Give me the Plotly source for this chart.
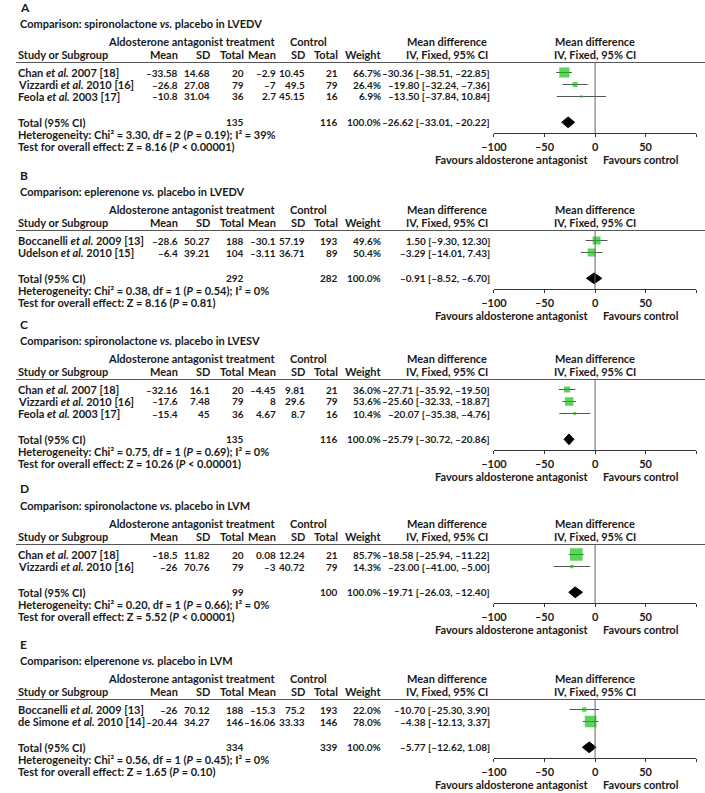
import plotly.graph_objects as go

W, H = 705, 793

# ---------------- data ----------------
panel_letters = ["A", "B", "C", "D", "E"]
drug_names = ["spironolactone", "eplerenone", "spironolactone", "spironolactone", "elperenone"]
outcomes = ["LVEDV", "LVEDV", "LVESV", "LVM", "LVM"]

A_authors = ["Chan", "Vizzardi", "Feola"]
A_years = [2007, 2010, 2003]
A_refs = [18, 16, 17]
A_exp_mean = [-33.58, -26.8, -10.8]
A_exp_sd = [14.68, 27.08, 31.04]
A_exp_n = [20, 79, 36]
A_ctl_mean = [-2.9, -7, 2.7]
A_ctl_sd = [10.45, 49.5, 45.15]
A_ctl_n = [21, 79, 16]
A_weight = [66.7, 26.4, 6.9]
A_md = [-30.36, -19.80, -13.50]
A_lo = [-38.51, -32.24, -37.84]
A_hi = [-22.85, -7.36, 10.84]

B_authors = ["Boccanelli", "Udelson"]
B_years = [2009, 2010]
B_refs = [13, 15]
B_exp_mean = [-28.6, -6.4]
B_exp_sd = [50.27, 39.21]
B_exp_n = [188, 104]
B_ctl_mean = [-30.1, -3.11]
B_ctl_sd = [57.19, 36.71]
B_ctl_n = [193, 89]
B_weight = [49.6, 50.4]
B_md = [1.50, -3.29]
B_lo = [-9.30, -14.01]
B_hi = [12.30, 7.43]

C_authors = ["Chan", "Vizzardi", "Feola"]
C_years = [2007, 2010, 2003]
C_refs = [18, 16, 17]
C_exp_mean = [-32.16, -17.6, -15.4]
C_exp_sd = [16.1, 7.48, 45]
C_exp_n = [20, 79, 36]
C_ctl_mean = [-4.45, 8, 4.67]
C_ctl_sd = [9.81, 29.6, 8.7]
C_ctl_n = [21, 79, 16]
C_weight = [36.0, 53.6, 10.4]
C_md = [-27.71, -25.60, -20.07]
C_lo = [-35.92, -32.33, -35.38]
C_hi = [-19.50, -18.87, -4.76]

D_authors = ["Chan", "Vizzardi"]
D_years = [2007, 2010]
D_refs = [18, 16]
D_exp_mean = [-18.5, -26]
D_exp_sd = [11.82, 70.76]
D_exp_n = [20, 79]
D_ctl_mean = [0.08, -3]
D_ctl_sd = [12.24, 40.72]
D_ctl_n = [21, 79]
D_weight = [85.7, 14.3]
D_md = [-18.58, -23.00]
D_lo = [-25.94, -41.00]
D_hi = [-11.22, -5.00]

E_authors = ["Boccanelli", "de Simone"]
E_years = [2009, 2010]
E_refs = [13, 14]
E_exp_mean = [-26, -20.44]
E_exp_sd = [70.12, 34.27]
E_exp_n = [188, 146]
E_ctl_mean = [-15.3, -16.06]
E_ctl_sd = [75.2, 33.33]
E_ctl_n = [193, 146]
E_weight = [22.0, 78.0]
E_md = [-10.70, -4.38]
E_lo = [-25.30, -12.13]
E_hi = [3.90, 3.37]

tot_exp_n = [135, 292, 135, 99, 334]
tot_ctl_n = [116, 282, 116, 100, 339]
tot_md = [-26.62, -0.91, -25.79, -19.71, -5.77]
tot_lo = [-33.01, -8.52, -30.72, -26.03, -12.62]
tot_hi = [-20.22, 6.70, -20.86, -12.40, 1.08]
tot_hi_printed = [-20.22, -6.70, -20.86, -12.40, 1.08]

het_chi2 = [3.30, 0.38, 0.75, 0.20, 0.56]
het_df = [2, 1, 1, 1, 1]
het_p = [0.19, 0.54, 0.69, 0.66, 0.45]
het_i2 = [39, 0, 0, 0, 0]
z_val = [8.16, 8.16, 10.26, 5.52, 1.65]
z_p = ["< 0.00001", "= 0.81", "< 0.00001", "< 0.00001", "= 0.10"]

axis_ticks = [-100, -50, 0, 50, 100]
axis_ticktext = ["–100", "–50", "0", "50", "100"]

panels = [
    (A_authors, A_years, A_refs, A_exp_mean, A_exp_sd, A_exp_n, A_ctl_mean, A_ctl_sd, A_ctl_n, A_weight, A_md, A_lo, A_hi),
    (B_authors, B_years, B_refs, B_exp_mean, B_exp_sd, B_exp_n, B_ctl_mean, B_ctl_sd, B_ctl_n, B_weight, B_md, B_lo, B_hi),
    (C_authors, C_years, C_refs, C_exp_mean, C_exp_sd, C_exp_n, C_ctl_mean, C_ctl_sd, C_ctl_n, C_weight, C_md, C_lo, C_hi),
    (D_authors, D_years, D_refs, D_exp_mean, D_exp_sd, D_exp_n, D_ctl_mean, D_ctl_sd, D_ctl_n, D_weight, D_md, D_lo, D_hi),
    (E_authors, E_years, E_refs, E_exp_mean, E_exp_sd, E_exp_n, E_ctl_mean, E_ctl_sd, E_ctl_n, E_weight, E_md, E_lo, E_hi),
]

# ---------------- layout constants ----------------
panel_tops = [7, 175, 324, 489, 644]
PITCH = 12.0
FONT = "Lato"
TXT = "#1a1a1a"
GREEN = "#12c312"
FS = 11
FSN = 10

X_STUDY = 4
X_EMEAN, X_ESD, X_ETOT = 169, 202, 236
X_CMEAN, X_CSD, X_CTOT = 269, 298, 332
X_WEIGHT = 376
X_MD = 487
X_MDHEAD = 442
X_FOREST0, X_FOREST1 = 490, 696
X_FHEAD = 593


def g(v):
    return f"{v:g}".replace("-", "–")


def f2(v):
    return f"{v:.2f}".replace("-", "–")


annotations = []
shapes = []


def T(text, xpx, ypx, anchor="left", size=FS):
    annotations.append(dict(
        text=f"<b>{text}</b>", x=xpx / W, y=1 - ypx / H, xref="paper", yref="paper",
        xanchor=anchor, yanchor="middle", align=anchor if anchor != "center" else "center",
        showarrow=False, borderpad=0,
        font=dict(family=FONT, size=size, color=TXT)))


fig = go.Figure()
layout_axes = {}

for k, (letter, drug, outc, data) in enumerate(zip(panel_letters, drug_names, outcomes, panels)):
    authors, years, refs, em, es, en, cm, cs, cn, wt, md, lo, hi = data
    n = len(authors)
    top = panel_tops[k]
    y_comp = top + 16.5
    y_group = top + 34.5
    y_head = top + 47.5
    y_line = top + 55.5
    y_row0 = top + 65.5
    tot_idx = n + 1.15
    y_total = y_row0 + tot_idx * PITCH
    y_het = y_total + 12.3
    y_test = y_total + 24.3
    y_axis = y_total + 11
    y_fav = y_axis + 26

    T(letter, 6, top, size=12)
    T(f"Comparison: {drug} <i>vs.</i> placebo in {outc}", 6, y_comp)
    T("Aldosterone antagonist treatment", 181.5, y_group, "center")
    T("Control", 301, y_group, "center")
    T("Mean difference", X_MDHEAD, y_group, "center")
    T("Mean difference", X_FHEAD, y_group, "center")
    T("Study or Subgroup", X_STUDY, y_head)
    T("Mean", X_EMEAN, y_head, "right")
    T("SD", X_ESD, y_head, "right")
    T("Total", X_ETOT, y_head, "right")
    T("Mean", X_CMEAN, y_head, "right")
    T("SD", X_CSD, y_head, "right")
    T("Total", X_CTOT, y_head, "right")
    T("Weight", X_WEIGHT, y_head, "right")
    T("IV, Fixed, 95% CI", X_MDHEAD, y_head, "center")
    T("IV, Fixed, 95% CI", X_FHEAD, y_head, "center")

    shapes.append(dict(type="line", xref="paper", yref="paper", x0=3 / W, x1=1.0,
                       y0=1 - y_line / H, y1=1 - y_line / H, line=dict(color="#555", width=1)))

    for i in range(n):
        yy = y_row0 + i * PITCH
        T(f"{authors[i]} <i>et al.</i> {years[i]} [{refs[i]}]", X_STUDY, yy)
        T(g(em[i]), X_EMEAN, yy, "right", FSN)
        T(g(es[i]), X_ESD, yy, "right", FSN)
        T(str(en[i]), X_ETOT, yy, "right", FSN)
        T(g(cm[i]), X_CMEAN, yy, "right", FSN)
        T(g(cs[i]), X_CSD, yy, "right", FSN)
        T(str(cn[i]), X_CTOT, yy, "right", FSN)
        T(f"{wt[i]:.1f}%", X_WEIGHT, yy, "right", FSN)
        T(f"{f2(md[i])} [{f2(lo[i])}, {f2(hi[i])}]", X_MD, yy, "right", FSN)

    T("Total (95% CI)", X_STUDY, y_total)
    T(str(tot_exp_n[k]), X_ETOT, y_total, "right", FSN)
    T(str(tot_ctl_n[k]), X_CTOT, y_total, "right", FSN)
    T("100.0%", X_WEIGHT, y_total, "right", FSN)
    T(f"{f2(tot_md[k])} [{f2(tot_lo[k])}, {f2(tot_hi_printed[k])}]", X_MD, y_total, "right", FSN)
    T(f"Heterogeneity: Chi² = {het_chi2[k]:.2f}, df = {het_df[k]} (<i>P</i> = {het_p[k]:.2f}); "
      f"I² = {het_i2[k]}%", X_STUDY, y_het)
    T(f"Test for overall effect: Z = {z_val[k]:.2f} (<i>P</i> {z_p[k]})", X_STUDY, y_test)
    T("Favours aldosterone antagonist", 588, y_fav, "right")
    T("Favours control", 600, y_fav, "left")

    # forest subplot
    ax = k + 1
    xname = "xaxis" if ax == 1 else f"xaxis{ax}"
    yname = "yaxis" if ax == 1 else f"yaxis{ax}"
    xa = "x" if ax == 1 else f"x{ax}"
    ya = "y" if ax == 1 else f"y{ax}"
    y_bottom_val = (y_axis - y_row0) / PITCH
    y_top_val = (y_line - y_row0) / PITCH
    layout_axes[xname] = dict(
        domain=[X_FOREST0 / W, X_FOREST1 / W], anchor=ya, range=[-100, 100],
        tickmode="array", tickvals=axis_ticks, ticktext=axis_ticktext,
        ticks="outside", ticklen=3, tickcolor="#333", tickwidth=1,
        showline=True, linecolor="#333", linewidth=1, showgrid=False, zeroline=False,
        tickfont=dict(family=FONT, size=FS, color=TXT, weight="bold"), fixedrange=True)
    layout_axes[yname] = dict(
        domain=[1 - y_axis / H, 1 - y_line / H], anchor=xa,
        range=[y_bottom_val, y_top_val], visible=False, fixedrange=True)
    ox = f"xaxis{ax + 5}"
    layout_axes[ox] = dict(
        domain=[X_FOREST0 / W, X_FOREST1 / W], anchor=ya, overlaying=xa, range=[-100, 100],
        tickmode="array", tickvals=axis_ticks, ticks="inside", ticklen=3, tickcolor="#333",
        showticklabels=False, showline=False, showgrid=False, zeroline=False, fixedrange=True)

    shapes.append(dict(type="line", xref=xa, yref=f"{ya} domain", x0=0, x1=0, y0=0, y1=1,
                       line=dict(color="#666", width=1)))

    # CI lines
    ci_x, ci_y = [], []
    for i in range(n):
        ci_x += [lo[i], hi[i], None]
        ci_y += [i, i, None]
    fig.add_trace(go.Scatter(x=ci_x, y=ci_y, mode="lines", xaxis=xa, yaxis=ya,
                             line=dict(color="#555", width=1), hoverinfo="skip"))
    # weighted squares
    fig.add_trace(go.Scatter(
        x=md, y=list(range(n)), mode="markers", xaxis=xa, yaxis=ya,
        marker=dict(symbol="square", color=GREEN, size=[1.5 + 0.13 * w for w in wt], line=dict(width=0)),
        hoverinfo="skip"))
    # pooled diamond
    hh = 0.45
    fig.add_trace(go.Scatter(
        x=[tot_lo[k], tot_md[k], tot_hi[k], tot_md[k], tot_lo[k]],
        y=[tot_idx, tot_idx - hh, tot_idx, tot_idx + hh, tot_idx],
        mode="lines", fill="toself", fillcolor="black", line=dict(color="black", width=1),
        xaxis=xa, yaxis=ya, hoverinfo="skip"))

fig.update_layout(
    width=W, height=H, margin=dict(l=0, r=0, t=0, b=0),
    paper_bgcolor="white", plot_bgcolor="white", showlegend=False,
    annotations=annotations, shapes=shapes, **layout_axes)

fig.write_html("out.html", config={"displayModeBar": False, "staticPlot": True},
               post_script="document.body.style.margin='0';document.body.style.overflow='hidden';")
